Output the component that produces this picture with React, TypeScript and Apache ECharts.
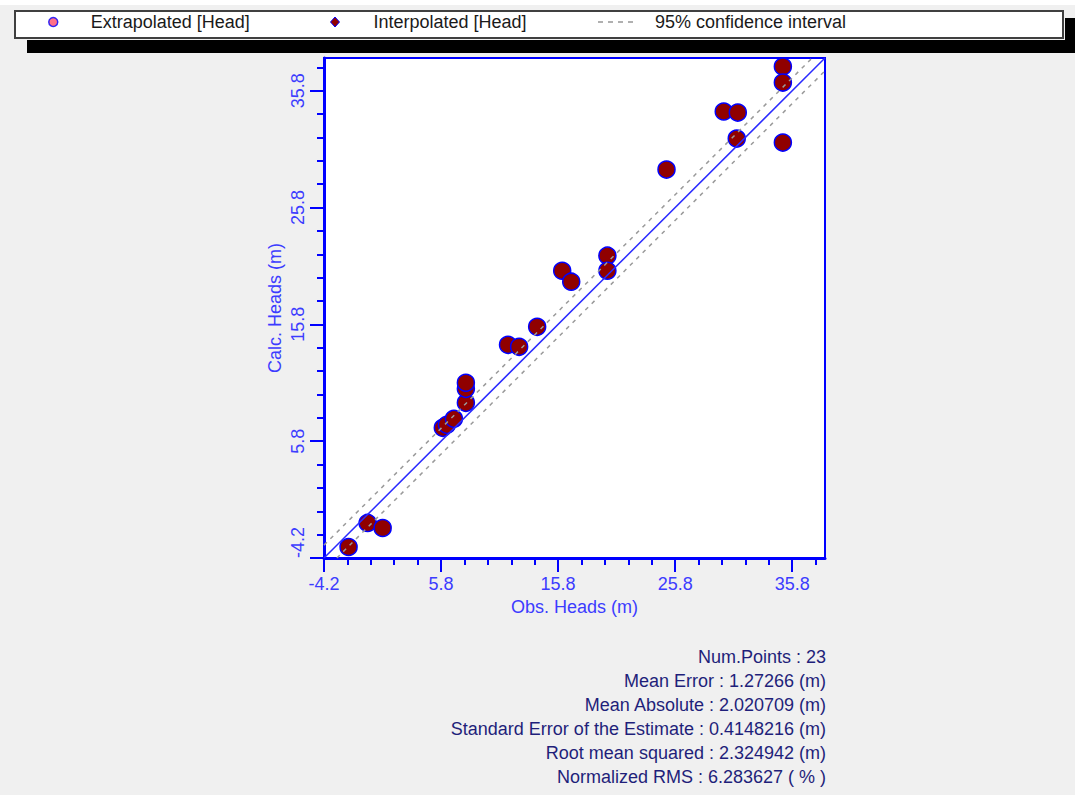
import React, { useEffect, useRef } from 'react';
import * as echarts from 'echarts';

// Observed vs calculated heads (m)
const obsHeads = [-2.1, -0.47, 0.81, 5.95, 6.3, 6.9, 7.92, 7.92, 7.92, 11.52, 12.47, 14.01, 16.15, 16.92, 20.01, 20.01, 25.06, 29.95, 31.15, 31.06, 35.0, 35.0, 35.0];
const calcHeads = [-3.26, -1.2, -1.63, 6.94, 7.2, 7.71, 9.08, 10.28, 10.8, 14.05, 13.88, 15.59, 20.39, 19.45, 21.68, 20.39, 29.05, 34.02, 33.93, 31.7, 37.87, 36.5, 31.36];
const extrapolated: number[][] = [];

const axisMin = -4.2;
const axisMax = 38.6;
const majorTicks = [-4.2, 5.8, 15.8, 25.8, 35.8];
const minorTicks = [-4.2, -2.2, -0.2, 1.8, 3.8, 5.8, 7.8, 9.8, 11.8, 13.8, 15.8, 17.8, 19.8, 21.8, 23.8, 25.8, 27.8, 29.8, 31.8, 33.8, 35.8, 37.8];

const identityLine = [[-4.2, -4.2], [38.6, 38.6]];
const upperCI = [[-4.2, -3.1], [37.5, 38.6]];
const lowerCI = [[-3.1, -4.2], [38.6, 37.5]];

const statsLines = [
  'Num.Points : 23',
  'Mean Error : 1.27266 (m)',
  'Mean Absolute : 2.020709 (m)',
  'Standard Error of the Estimate : 0.4148216 (m)',
  'Root mean squared : 2.324942 (m)',
  'Normalized RMS : 6.283627 ( % )',
];

const FONT = '"Liberation Sans", Arial, sans-serif';
const BLUE = '#0000ff';
const LABEL_BLUE = '#3c3cff';
const DASH_ICON = 'path://M0,0h5v2h-5z M10,0h5v2h-5z M20,0h5v2h-5z M30,0h5v2h-5z';

function App() {
  const ref = useRef<HTMLDivElement>(null);

  useEffect(() => {
    if (!ref.current) return;
    const chart = echarts.init(ref.current, null, { renderer: 'svg' });

    const scatterData = obsHeads.map((x, i) => [x, calcHeads[i]]);

    const fmt = (v: number) => Number(v).toFixed(1);

    const mainAxis = (name: string, isY: boolean) => ({
      type: 'value',
      min: axisMin,
      max: axisMax,
      position: isY ? 'left' : 'bottom',
      name,
      nameLocation: 'middle',
      nameGap: 40,
      nameTextStyle: { color: LABEL_BLUE, fontSize: 18, fontFamily: FONT },
      axisLine: { show: true, onZero: false, lineStyle: { color: BLUE, width: 3 } },
      axisTick: { show: true, customValues: majorTicks, length: 14, lineStyle: { color: BLUE, width: 2 } },
      axisLabel: {
        show: true,
        customValues: majorTicks,
        formatter: fmt,
        margin: 17,
        color: LABEL_BLUE,
        fontSize: 18,
        fontFamily: FONT,
        rotate: isY ? 90 : 0,
        alignMinLabel: isY ? 'left' : 'center',
      },
      splitLine: { show: false },
    });

    const minorAxis = (isY: boolean) => ({
      type: 'value',
      min: axisMin,
      max: axisMax,
      position: isY ? 'left' : 'bottom',
      axisLine: { show: false, onZero: false },
      axisTick: { show: true, customValues: minorTicks, length: 7, lineStyle: { color: BLUE, width: 2 } },
      axisLabel: { show: false },
      splitLine: { show: false },
    });

    const legendBase = {
      top: 13,
      padding: 0,
      selectedMode: false,
      orient: 'horizontal',
      textStyle: { color: '#1a1a1a', fontSize: 18, fontFamily: FONT },
    };

    chart.setOption({
      animation: false,
      backgroundColor: '#f0f0f0',
      graphic: [
        { type: 'rect', shape: { x: 0, y: 0, width: 1075, height: 5 }, style: { fill: '#ffffff' }, z: -10 },
        { type: 'rect', shape: { x: 27, y: 18, width: 1060, height: 35 }, style: { fill: '#000000' }, z: -5 },
        { type: 'rect', shape: { x: 13, y: 9, width: 1052, height: 31 }, style: { fill: '#f0f0f0' }, z: -4 },
        { type: 'rect', shape: { x: 15, y: 11, width: 1048, height: 27 }, style: { fill: '#ffffff', stroke: '#404040', lineWidth: 2 }, z: -3 },
        ...statsLines.map((t, i) => ({
          type: 'text',
          x: 826,
          y: 657 + i * 24,
          style: {
            text: t,
            fill: '#1f1f7a',
            font: `18px ${FONT}`,
            textAlign: 'right',
            textVerticalAlign: 'middle',
          },
        })),
      ],
      legend: [
        {
          ...legendBase,
          left: 48,
          itemWidth: 9,
          itemHeight: 9,
          textStyle: { ...legendBase.textStyle, padding: [0, 0, 0, 28] },
          data: [{ name: 'Extrapolated [Head]', icon: 'circle', itemStyle: { color: '#ff4d6a', borderColor: BLUE, borderWidth: 1.5 } }],
        },
        {
          ...legendBase,
          left: 330,
          itemWidth: 9,
          itemHeight: 10,
          textStyle: { ...legendBase.textStyle, padding: [0, 0, 0, 29] },
          data: [{ name: 'Interpolated [Head]', icon: 'diamond', itemStyle: { color: '#900000', borderColor: BLUE, borderWidth: 1 } }],
        },
        {
          ...legendBase,
          left: 598,
          itemWidth: 37,
          itemHeight: 2,
          textStyle: { ...legendBase.textStyle, padding: [0, 0, 0, 16] },
          data: [{ name: '95% confidence interval', icon: DASH_ICON, itemStyle: { color: '#b0b0b0', borderWidth: 0 } }],
        },
      ],
      grid: {
        left: 324,
        top: 58,
        width: 501,
        height: 500,
        show: true,
        backgroundColor: '#ffffff',
        borderColor: BLUE,
        borderWidth: 2,
        containLabel: false,
      },
      xAxis: [mainAxis('Obs. Heads (m)', false), minorAxis(false)],
      yAxis: [mainAxis('Calc. Heads (m)', true), minorAxis(true)],
      series: [
        {
          name: 'Extrapolated [Head]',
          type: 'scatter',
          data: extrapolated,
          symbol: 'circle',
          symbolSize: 16,
          itemStyle: { color: '#ff4d6a', borderColor: BLUE, borderWidth: 1.5 },
        },
        {
          name: 'Interpolated [Head]',
          type: 'scatter',
          data: scatterData,
          symbol: 'circle',
          symbolSize: 17,
          itemStyle: { color: '#900000', borderColor: BLUE, borderWidth: 1.5, opacity: 1 },
          z: 2,
        },
        {
          name: 'identity',
          type: 'line',
          data: identityLine,
          symbol: 'none',
          lineStyle: { color: '#2a2aff', width: 1.5 },
          z: 3,
        },
        {
          name: '95% confidence interval',
          type: 'line',
          data: upperCI,
          symbol: 'none',
          lineStyle: { color: '#9a9a9a', width: 1.5, type: [4, 5] },
          itemStyle: { color: '#9a9a9a' },
          z: 3,
        },
        {
          name: '95% confidence interval',
          type: 'line',
          data: lowerCI,
          symbol: 'none',
          lineStyle: { color: '#9a9a9a', width: 1.5, type: [4, 5] },
          itemStyle: { color: '#9a9a9a' },
          z: 3,
        },
      ],
    });

    return () => chart.dispose();
  }, []);

  return (
    <div
      ref={ref}
      style={{ position: 'fixed', left: 0, top: 0, width: 1075, height: 795, background: '#f0f0f0' }}
    />
  );
}

export default App;
